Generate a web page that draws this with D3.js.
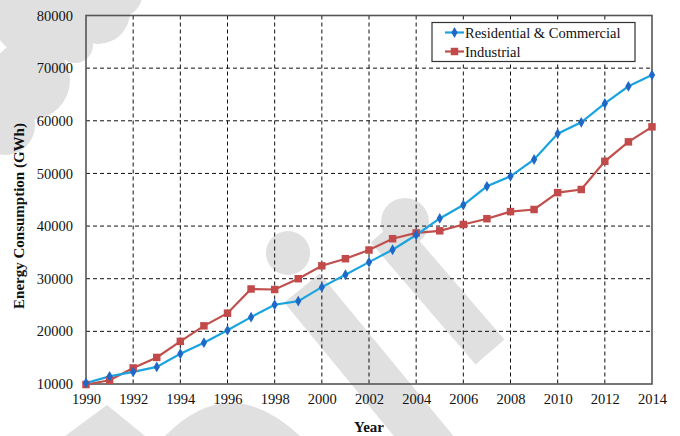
<!DOCTYPE html>
<html lang="en">
<head>
    <meta charset="UTF-8">
    <title>Energy Consumption</title>
    <script src="https://d3js.org/d3.v7.min.js"></script>
    <style>
        body {
            margin: 0;
            padding: 0;
            background: #fff;
        }
        svg {
            display: block;
            font-family: "Liberation Serif", "Times New Roman", serif;
        }
        .grid line {
            stroke: #111;
            stroke-width: 1;
            stroke-dasharray: 4,3;
        }
        .axis-title {
            font-size: 15px;
            font-weight: bold;
            fill: #111;
        }
    </style>
</head>
<body>
    <svg width="680" height="436"></svg>

    <script>
        // data
        const years = d3.range(1990, 2015);
        const residential = [10200, 11450, 12300, 13250, 15750, 17850, 20200, 22700, 25050, 25750,
                             28400, 30750, 33150, 35500, 38300, 41450, 44000, 47550, 49450, 52650,
                             57550, 59700, 63300, 66550, 68700];
        const industrial = [9900, 10700, 13050, 15050, 18100, 21050, 23450, 28050, 27950, 30000,
                            32450, 33800, 35450, 37600, 38700, 39100, 40300, 41400, 42750, 43150,
                            46350, 46950, 52300, 56000, 58850];
        const xTicks = d3.range(1990, 2015, 2);
        const yTicks = d3.range(10000, 80001, 10000);
        const seriesNames = ["Residential & Commercial", "Industrial"];

        const margin = {top: 15.5, right: 28, bottom: 52, left: 86};
        const width = 680, height = 436;
        const serif = "Liberation Serif, Times New Roman, serif";

        const svg = d3.select("svg");

        const x = d3.scaleLinear().domain([1990, 2014]).range([margin.left, width - margin.right]);
        const y = d3.scaleLinear().domain([10000, 80000]).range([height - margin.bottom, margin.top]);

        // faint watermark behind the chart
        const wm = svg.append("g").attr("fill", "#e0e0e0").attr("stroke", "#e0e0e0");
        [[40, 10, 50], [98, 12, 32], [120, -5, 22], [30, 80, 40], [5, 125, 30], [75, 45, 18],
         [288, 253, 22], [405, 222, 24]].forEach(c => {
            wm.append("circle").attr("cx", c[0]).attr("cy", c[1]).attr("r", c[2]).attr("stroke", "none");
        });
        wm.append("line").attr("x1", 302).attr("y1", 288).attr("x2", 445).attr("y2", 462)
            .attr("stroke-width", 46);
        wm.append("line").attr("x1", 385).attr("y1", 230).attr("x2", 490).attr("y2", 352)
            .attr("stroke-width", 38);
        wm.append("path").attr("stroke", "none").attr("d", "M65,436 L107,405 L145,436 Z");
        wm.append("path").attr("stroke", "none").attr("d", "M165,436 Q230,370 300,436 Z");

        // grid
        svg.append("g").attr("class", "grid")
            .selectAll("line")
            .data(xTicks.filter(d => d > 1990 && d < 2014))
            .join("line")
            .attr("x1", d => x(d)).attr("x2", d => x(d))
            .attr("y1", y(80000)).attr("y2", y(10000));

        svg.append("g").attr("class", "grid")
            .selectAll("line")
            .data(yTicks.filter(d => d > 10000 && d < 80000))
            .join("line")
            .attr("x1", x(1990)).attr("x2", x(2014))
            .attr("y1", d => y(d)).attr("y2", d => y(d));

        // frame
        svg.append("rect")
            .attr("x", x(1990)).attr("y", y(80000))
            .attr("width", x(2014) - x(1990)).attr("height", y(10000) - y(80000))
            .attr("fill", "none").attr("stroke", "#555").attr("stroke-width", 1.6);

        // axes
        const xAxis = svg.append("g")
            .attr("transform", `translate(0,${y(10000)})`)
            .call(d3.axisBottom(x).tickValues(xTicks).tickFormat(d3.format("d")).tickSize(0).tickPadding(10));
        xAxis.select(".domain").remove();

        const yAxis = svg.append("g")
            .attr("transform", `translate(${x(1990)},0)`)
            .call(d3.axisLeft(y).tickValues(yTicks).tickFormat(d3.format("d")).tickSize(0).tickPadding(13));
        yAxis.select(".domain").remove();

        [xAxis, yAxis].forEach(a => {
            a.attr("font-family", serif).attr("font-size", 14.5);
            a.selectAll(".tick text")
                .attr("font-family", serif)
                .attr("font-size", 14.5)
                .attr("fill", "#111");
        });

        svg.append("text")
            .attr("class", "axis-title")
            .attr("x", (x(1990) + x(2014)) / 2).attr("y", 432)
            .attr("text-anchor", "middle")
            .text("Year");

        svg.append("text")
            .attr("class", "axis-title")
            .attr("transform", "translate(24,216) rotate(-90)")
            .attr("text-anchor", "middle")
            .text("Energy Consumption (GWh)");

        // series
        const line = d3.line().x((d, i) => x(years[i])).y(d => y(d));
        const blueLine = "#1aa4df", blueMark = "#1f68c6";
        const redLine = "#c0504d", redMark = "#c24a4a";

        svg.append("path").datum(industrial)
            .attr("fill", "none").attr("stroke", redLine).attr("stroke-width", 2.2)
            .attr("d", line);
        svg.append("path").datum(residential)
            .attr("fill", "none").attr("stroke", blueLine).attr("stroke-width", 2.2)
            .attr("d", line);

        const diamond = d3.symbol().type(d3.symbolDiamond).size(34);
        const square = d3.symbol().type(d3.symbolSquare).size(56);

        svg.append("g").selectAll("path")
            .data(industrial)
            .join("path")
            .attr("d", square)
            .attr("fill", redMark)
            .attr("transform", (d, i) => `translate(${x(years[i])},${y(d)})`);

        svg.append("g").selectAll("path")
            .data(residential)
            .join("path")
            .attr("d", diamond)
            .attr("fill", blueMark)
            .attr("transform", (d, i) => `translate(${x(years[i])},${y(d)})`);

        // legend
        const legend = svg.append("g");
        legend.append("rect")
            .attr("x", 432).attr("y", 22.5).attr("width", 203).attr("height", 39)
            .attr("fill", "#fff").attr("stroke", "#333").attr("stroke-width", 1.2);

        const items = legend.selectAll("g.item")
            .data(seriesNames)
            .join("g")
            .attr("class", "item")
            .attr("transform", (d, i) => `translate(445,${32.5 + i * 19})`);

        items.append("line")
            .attr("x1", 0).attr("x2", 19).attr("y1", 0).attr("y2", 0)
            .attr("stroke", (d, i) => i === 0 ? blueLine : redLine)
            .attr("stroke-width", 2.2);
        items.append("path")
            .attr("d", (d, i) => i === 0 ? diamond() : square())
            .attr("fill", (d, i) => i === 0 ? blueMark : redMark)
            .attr("transform", "translate(9.5,0)");
        items.append("text")
            .attr("x", 20).attr("y", 5)
            .attr("font-size", "14.5px")
            .attr("fill", "#111")
            .text(d => d);
    </script>
</body>
</html>
